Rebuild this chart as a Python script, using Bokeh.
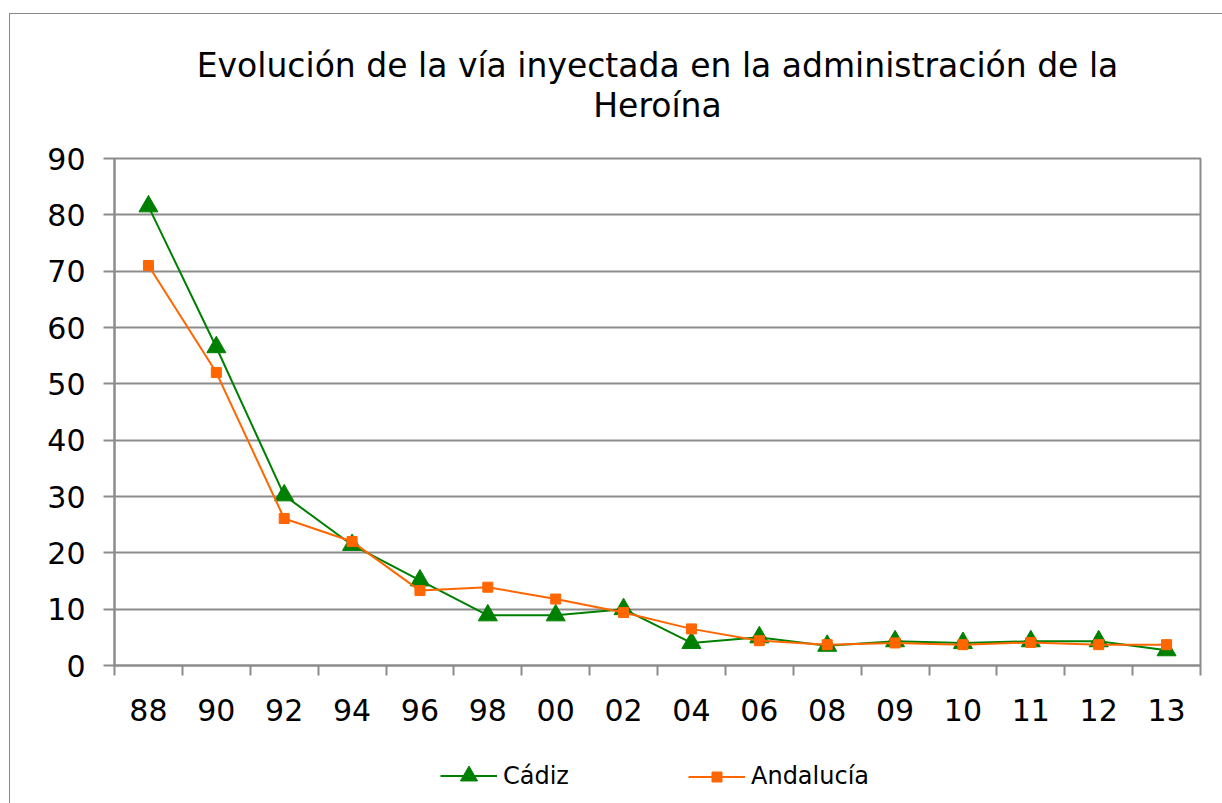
import numpy as np
from bokeh.plotting import figure
from bokeh.models import (ColumnDataSource, FixedTicker, Range1d, Legend, LegendItem)
from bokeh.layouts import column
from bokeh.core.properties import value
from bokeh.embed import file_html
from bokeh.resources import INLINE

categories = ["88", "90", "92", "94", "96", "98", "00", "02", "04", "06",
              "08", "09", "10", "11", "12", "13"]
cadiz = [81.5, 56.5, 30.2, 21.4, 15.1, 8.9, 8.9, 10.0, 4.0, 5.0,
         3.5, 4.3, 4.0, 4.3, 4.3, 2.7]
andalucia = [71.0, 52.0, 26.1, 22.0, 13.3, 13.9, 11.8, 9.4, 6.5, 4.4,
             3.7, 4.0, 3.7, 4.1, 3.7, 3.7]
title_lines = ["Evolución de la vía inyectada en la administración de la", "Heroína"]
series_names = ["Cádiz", "Andalucía"]

FONT = "DejaVu Sans"
GRID = "#8c8c8c"
GREEN = "#008000"
ORANGE = "#ff6600"
W = 1212

n = len(categories)
xs = np.arange(n) + 0.5
src = ColumnDataSource(dict(x=xs, cadiz=cadiz, andalucia=andalucia, cat=categories))


def blank(height, y_range):
    f = figure(width=W, height=height, output_backend="svg", toolbar_location=None,
               x_range=Range1d(0, 1), y_range=y_range,
               min_border_left=0, min_border_right=0,
               min_border_top=0, min_border_bottom=0)
    f.axis.visible = False
    f.grid.visible = False
    f.outline_line_color = None
    f.background_fill_color = "white"
    f.border_fill_color = "white"
    return f


# ---- title block (frame aligned with the chart frame by the column) ----
head = blank(120, Range1d(120, 0))
head.text(x=[0.5, 0.5], y=[51, 91], text=title_lines, text_align="center",
          text_baseline="middle", text_font=value(FONT), text_font_size="33px",
          text_color="black")

# ---- main chart ----
p = figure(width=W, height=601, output_backend="svg", toolbar_location=None,
           x_range=Range1d(0, n), y_range=Range1d(0, 90),
           min_border_left=104, min_border_right=22, min_border_top=24,
           min_border_bottom=70)
p.outline_line_color = GRID
p.outline_line_width = 2
p.background_fill_color = "white"
p.border_fill_color = "white"

p.xgrid.visible = False
p.ygrid.grid_line_color = GRID
p.ygrid.grid_line_width = 2
p.yaxis.ticker = FixedTicker(ticks=list(range(0, 91, 10)))

for ax in (p.xaxis[0], p.yaxis[0]):
    ax.axis_line_color = GRID
    ax.axis_line_width = 2
    ax.major_label_text_font = FONT
    ax.major_label_text_font_size = "30px"
    ax.major_label_text_color = "black"
    ax.minor_tick_line_color = None

p.yaxis.major_tick_line_color = GRID
p.yaxis.major_tick_line_width = 2
p.yaxis.major_tick_out = 11
p.yaxis.major_tick_in = 0
p.yaxis.major_label_standoff = 18

p.xaxis.ticker = FixedTicker(ticks=list(xs), minor_ticks=list(range(0, n + 1)))
p.xaxis.major_label_overrides = {float(x): c for x, c in zip(xs, categories)}
p.xaxis.major_tick_line_color = None
p.xaxis.minor_tick_line_color = GRID
p.xaxis.minor_tick_line_width = 2
p.xaxis.minor_tick_out = 10
p.xaxis.minor_tick_in = 0
p.xaxis.major_label_standoff = 23


def draw_series(fig, source):
    l1 = fig.line("x", "cadiz", source=source, line_color=GREEN, line_width=2)
    s1 = fig.scatter("x", "cadiz", source=source, marker="triangle", size=19,
                     fill_color=GREEN, line_color=GREEN)
    l2 = fig.line("x", "andalucia", source=source, line_color=ORANGE, line_width=2)
    s2 = fig.scatter("x", "andalucia", source=source, marker="square", size=10,
                     fill_color=ORANGE, line_color=ORANGE)
    return l1, s1, l2, s2


draw_series(p, src)

# ---- legend block (series drawn outside its visible range; only the legends show) ----
leg = blank(68, Range1d(1000, 2000))
gl1, gs1, gl2, gs2 = draw_series(leg, src)
common = dict(orientation="horizontal", label_text_font=FONT,
              label_text_font_size="24px", label_text_color="black",
              label_height=20, glyph_width=57, label_standoff=6,
              border_line_color=None, background_fill_alpha=0, margin=0, padding=0)
legend1 = Legend(items=[LegendItem(label=series_names[0], renderers=[gl1, gs1], index=0)],
                 location=(326, 6), glyph_height=43, **common)
legend2 = Legend(items=[LegendItem(label=series_names[1], renderers=[gl2, gs2], index=0)],
                 location=(574, 13), glyph_height=25, **common)
leg.add_layout(legend1)
leg.add_layout(legend2)

layout = column(head, p, leg, spacing=0)
layout.styles = {"border-left": "1px solid #888888", "border-top": "1px solid #888888",
                 "margin-top": "13px", "margin-left": "9px"}

open("out.html", "w").write(file_html(layout, INLINE))
